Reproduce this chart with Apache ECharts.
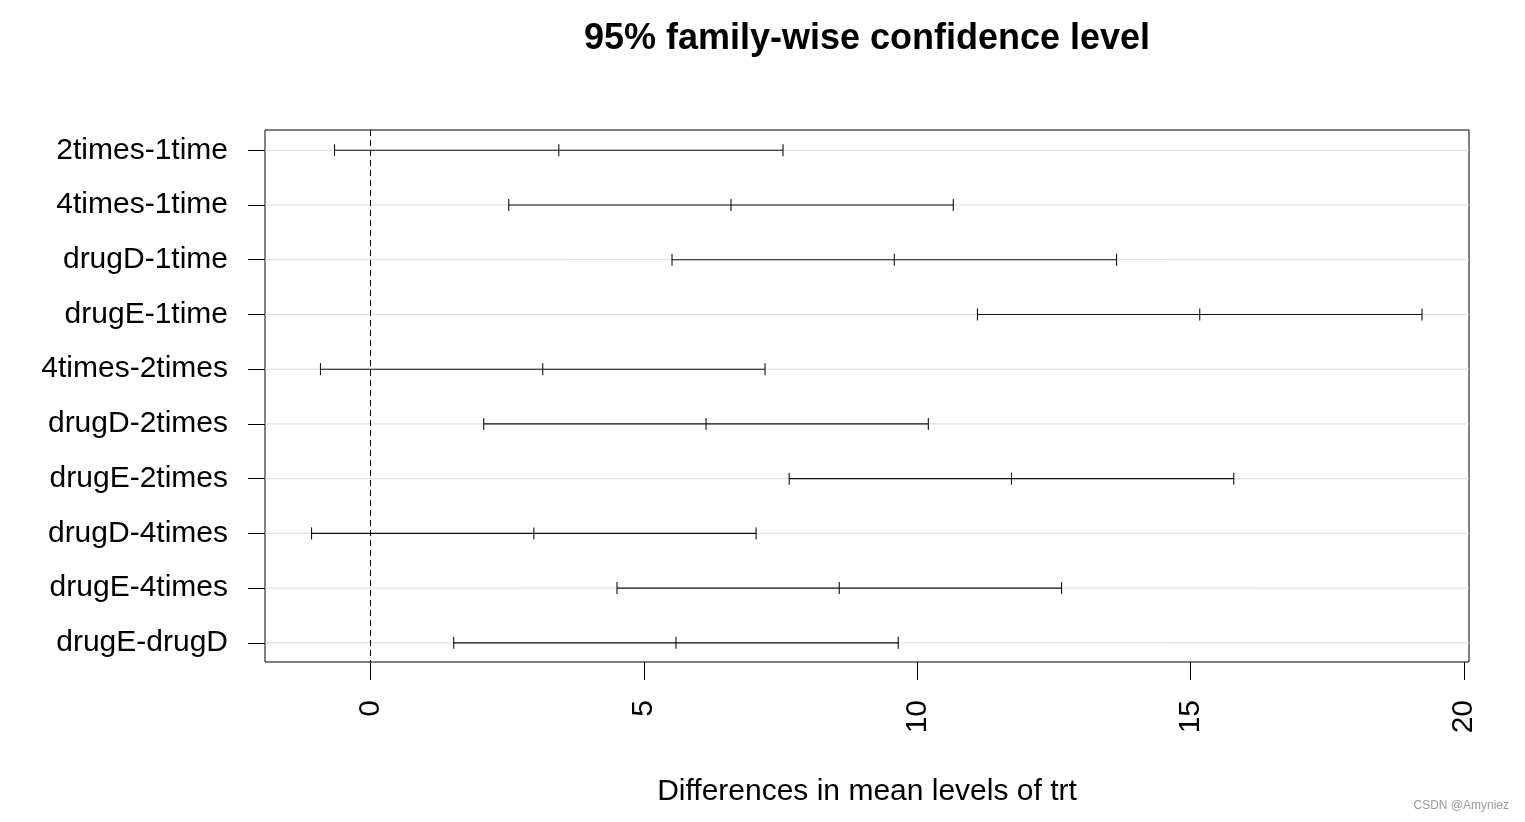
<!DOCTYPE html>
<html>
<head>
<meta charset="utf-8">
<script src="https://cdn.jsdelivr.net/npm/echarts@6/dist/echarts.min.js"></script>
<style>
html,body{margin:0;padding:0;background:#fff;}
#c{width:1525px;height:822px;}
</style>
</head>
<body>
<div id="c"></div>
<script>
const categories = ['2times-1time','4times-1time','drugD-1time','drugE-1time','4times-2times','drugD-2times','drugE-2times','drugD-4times','drugE-4times','drugE-drugD'];
const diffs = [3.44300, 6.59281, 9.57920, 15.16555, 3.14981, 6.13620, 11.72255, 2.98639, 8.57274, 5.58635];
const lowers = [-0.6582817, 2.5275175, 5.5139060, 11.1002559, -0.9154885, 2.0708548, 7.6572030, -1.0788278, 4.5075165, 1.5211386];
const uppers = [7.544282, 10.658106, 13.644495, 19.230849, 7.215111, 10.201549, 15.787901, 7.051610, 12.638063, 9.651586];
const xTicks = [0, 5, 10, 15, 20];
const xRange = [-1.93, 20.09];
const yRange = [0.63, 10.35];

const rows = categories.map((c, i) => i + 1);
const barData = categories.map((c, i) => [rows[i], lowers[i], diffs[i], uppers[i]]);
const gridData = rows.map(r => [r]);

const FONT = "'Liberation Sans', Arial, sans-serif";
const chart = echarts.init(document.getElementById('c'), null, {renderer: 'canvas'});
chart.setOption({
  animation: false,
  backgroundColor: '#fff',
  graphic: [
    {type: 'text', x: 867, y: 39, style: {text: '95% family-wise confidence level', font: "bold 36px " + FONT, fill: '#000', textAlign: 'center', textVerticalAlign: 'middle'}},
    {type: 'text', right: 16, bottom: 10, style: {text: 'CSDN @Amyniez', font: "12px " + FONT, fill: '#999'}}
  ],
  grid: {left: 265, right: 56, top: 130, bottom: 160, show: true, borderColor: '#000', borderWidth: 1, backgroundColor: 'transparent'},
  xAxis: {
    type: 'value', min: xRange[0], max: xRange[1],
    axisLine: {show: false, onZero: false},
    axisTick: {show: true, length: 18, inside: false, customValues: xTicks, lineStyle: {color: '#000', width: 1}},
    axisLabel: {show: true, rotate: 90, margin: 38, customValues: xTicks, color: '#000', fontSize: 30, fontFamily: FONT},
    splitLine: {show: false},
    name: 'Differences in mean levels of trt', nameLocation: 'middle', nameGap: 115,
    nameTextStyle: {color: '#000', fontSize: 30, fontFamily: FONT}
  },
  yAxis: {
    type: 'value', min: yRange[0], max: yRange[1], inverse: true,
    axisLine: {show: false, onZero: false},
    axisTick: {show: true, length: 17, customValues: rows, lineStyle: {color: '#000', width: 1}},
    axisLabel: {show: true, margin: 37, customValues: rows, color: '#000', fontSize: 30, fontFamily: FONT,
      padding: [7, 0, 0, 0],
      formatter: v => categories[Math.round(v) - 1] || ''},
    splitLine: {show: false}
  },
  series: [
    {
      type: 'custom', name: 'grid', silent: true, z: 1,
      data: gridData,
      renderItem: function (params, api) {
        const y = api.value(0);
        const p1 = api.coord([xRange[0], y]);
        const p2 = api.coord([xRange[1], y]);
        return {type: 'line', shape: {x1: p1[0], y1: p1[1], x2: p2[0], y2: p2[1]}, style: {stroke: '#dcdcdc', lineWidth: 1}};
      },
      markLine: {
        silent: true, symbol: 'none', label: {show: false},
        lineStyle: {color: '#000', type: [6, 4], width: 1},
        data: [{xAxis: 0}]
      }
    },
    {
      type: 'custom', name: 'ci', z: 3,
      data: barData,
      encode: {x: [1, 2, 3], y: 0},
      renderItem: function (params, api) {
        const y = api.value(0);
        const pl = api.coord([api.value(1), y]);
        const pc = api.coord([api.value(2), y]);
        const pu = api.coord([api.value(3), y]);
        const h = 6;
        const st = {stroke: '#111', lineWidth: 1.1};
        return {type: 'group', children: [
          {type: 'line', shape: {x1: pl[0], y1: pl[1], x2: pu[0], y2: pu[1]}, style: st},
          {type: 'line', shape: {x1: pl[0], y1: pl[1] - h, x2: pl[0], y2: pl[1] + h}, style: st},
          {type: 'line', shape: {x1: pc[0], y1: pc[1] - h, x2: pc[0], y2: pc[1] + h}, style: st},
          {type: 'line', shape: {x1: pu[0], y1: pu[1] - h, x2: pu[0], y2: pu[1] + h}, style: st}
        ]};
      }
    }
  ]
});
</script>
</body>
</html>
